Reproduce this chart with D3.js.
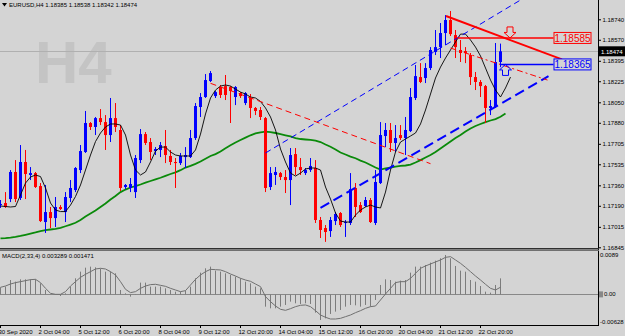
<!DOCTYPE html>
<html>
<head>
<meta charset="utf-8">
<script src="https://cdn.jsdelivr.net/npm/d3@7"></script>
<style>
  html, body { margin: 0; padding: 0; background: #d4d4d4; }
  svg { display: block; font-family: "Liberation Sans", Arial, sans-serif; }
</style>
</head>
<body>
<div id="chart"></div>
<script>
// EURUSD H4 candles, bar 0 = 30 Sep 20:00, bar 100 = 23 Oct 12:00
const open = [1.17196,1.17213,1.17246,1.17471,1.17255,1.17554,1.17446,1.17462,1.17354,1.17055,
  1.17138,1.17088,1.17180,1.17138,1.17255,1.17321,1.17487,1.17637,1.17878,1.17845,
  1.17919,1.17886,1.17778,1.17919,1.17820,1.17346,1.17338,1.17304,1.17570,1.17786,
  1.17720,1.17645,1.17654,1.17687,1.17604,1.17554,1.17545,1.17595,1.17595,1.17753,
  1.18011,1.18094,1.18227,1.18102,1.18177,1.18185,1.18177,1.18094,1.18127,1.18044,
  1.18086,1.18003,1.17986,1.17919,1.17346,1.17446,1.17462,1.17429,1.17404,1.17620,
  1.17512,1.17462,1.17487,1.17504,1.17072,1.17005,1.16980,1.17063,1.17130,1.17047,
  1.17047,1.17338,1.17196,1.17188,1.17238,1.17047,1.17379,1.17770,1.17820,1.17712,
  1.17778,1.17753,1.17811,1.18086,1.18260,1.18252,1.18335,1.18468,1.18509,1.18626,
  1.18734,1.18609,1.18485,1.18476,1.18443,1.18260,1.18219,1.18185,1.18003,1.18011,
  1.18385]
const high = [1.17238,1.17304,1.17487,1.17570,1.17695,1.17654,1.17512,1.17471,1.17379,1.17363,
  1.17180,1.17263,1.17196,1.17304,1.17404,1.17512,1.17695,1.17978,1.17886,1.17928,
  1.17994,1.17944,1.18086,1.18044,1.17861,1.17371,1.17421,1.17612,1.17828,1.17803,
  1.17753,1.17678,1.17720,1.17820,1.17654,1.17587,1.17629,1.17678,1.17820,1.18044,
  1.18127,1.18285,1.18310,1.18144,1.18194,1.18277,1.18185,1.18185,1.18135,1.18135,
  1.18119,1.18011,1.18011,1.17928,1.17512,1.17512,1.17471,1.17487,1.17670,1.17670,
  1.17587,1.17504,1.17587,1.17570,1.17097,1.17030,1.17097,1.17138,1.17138,1.17072,
  1.17462,1.17379,1.17221,1.17263,1.17255,1.17487,1.17886,1.17878,1.17878,1.17861,
  1.17861,1.17928,1.18169,1.18360,1.18376,1.18376,1.18509,1.18651,1.18709,1.18775,
  1.18809,1.18651,1.18568,1.18509,1.18460,1.18302,1.18235,1.18194,1.18069,1.18543,
  1.18538]
const low = [1.17172,1.17172,1.17221,1.17221,1.17238,1.17246,1.17404,1.17338,1.17055,1.16964,
  1.17005,1.17014,1.17155,1.17055,1.17221,1.17304,1.17462,1.17629,1.17820,1.17778,
  1.17861,1.17654,1.17720,1.17803,1.17313,1.17329,1.17304,1.17255,1.17545,1.17695,
  1.17570,1.17612,1.17595,1.17545,1.17529,1.17338,1.17529,1.17504,1.17587,1.17737,
  1.17928,1.18086,1.18219,1.18086,1.18086,1.18069,1.17878,1.18027,1.18086,1.18027,
  1.17919,1.17944,1.17903,1.17304,1.17321,1.17363,1.17404,1.17296,1.17196,1.17446,
  1.17446,1.17446,1.17471,1.17047,1.16922,1.16890,1.16931,1.17030,1.17014,1.16931,
  1.17030,1.17097,1.17130,1.17180,1.17047,1.17030,1.17371,1.17678,1.17637,1.17637,
  1.17737,1.17612,1.17803,1.18069,1.18210,1.18210,1.18318,1.18443,1.18418,1.18526,
  1.18601,1.18418,1.18385,1.18376,1.18194,1.18152,1.18094,1.17878,1.17944,1.18003,
  1.18342]
const close = [1.17205,1.17180,1.17471,1.17246,1.17554,1.17454,1.17462,1.17346,1.17063,1.17138,
  1.17088,1.17180,1.17163,1.17263,1.17338,1.17504,1.17645,1.17878,1.17845,1.17919,
  1.17886,1.17778,1.17919,1.17845,1.17338,1.17363,1.17371,1.17587,1.17786,1.17712,
  1.17637,1.17662,1.17695,1.17612,1.17554,1.17545,1.17604,1.17612,1.17753,1.18019,
  1.18094,1.18235,1.18293,1.18135,1.18111,1.18111,1.18144,1.18177,1.18102,1.18127,
  1.18003,1.17978,1.17928,1.17338,1.17462,1.17471,1.17429,1.17404,1.17612,1.17512,
  1.17487,1.17487,1.17521,1.17072,1.16989,1.16972,1.17072,1.17122,1.17030,1.17055,
  1.17329,1.17180,1.17138,1.17238,1.17055,1.17388,1.17778,1.17820,1.17712,1.17753,
  1.17753,1.17820,1.18094,1.18268,1.18219,1.18335,1.18485,1.18509,1.18626,1.18734,
  1.18617,1.18509,1.18460,1.18460,1.18260,1.18219,1.18185,1.18003,1.18019,1.18385,
  1.18474]

// thin black moving average (drawn shifted, so it runs 2 bars past the last candle)
const maFast = [1.17188,1.17184,1.17180,1.17184,1.17280,1.17379,1.17429,1.17446,1.17433,1.17338,
  1.17213,1.17155,1.17142,1.17142,1.17196,1.17267,1.17363,1.17487,1.17612,1.17724,
  1.17795,1.17845,1.17870,1.17870,1.17861,1.17778,1.17612,1.17487,1.17446,1.17471,
  1.17554,1.17645,1.17678,1.17678,1.17637,1.17612,1.17604,1.17604,1.17604,1.17654,
  1.17786,1.17953,1.18086,1.18152,1.18185,1.18194,1.18185,1.18160,1.18135,1.18119,
  1.18094,1.18086,1.18057,1.18003,1.17928,1.17820,1.17662,1.17554,1.17462,1.17437,
  1.17462,1.17496,1.17504,1.17504,1.17487,1.17346,1.17246,1.17130,1.17063,1.17055,
  1.17055,1.17113,1.17155,1.17180,1.17196,1.17180,1.17172,1.17304,1.17487,1.17637,
  1.17720,1.17745,1.17770,1.17795,1.17870,1.17986,1.18119,1.18252,1.18343,1.18418,
  1.18485,1.18551,1.18617,1.18617,1.18568,1.18509,1.18435,1.18335,1.18235,1.18152,
  1.18094,1.18169,1.18260]

// green slow moving average
const maSlow = [1.16920,1.16922,1.16926,1.16931,1.16939,1.16949,1.16959,1.16969,1.16980,1.16987,
  1.16993,1.16999,1.17007,1.17020,1.17034,1.17049,1.17072,1.17101,1.17126,1.17151,
  1.17180,1.17209,1.17242,1.17271,1.17304,1.17325,1.17342,1.17354,1.17367,1.17383,
  1.17396,1.17410,1.17423,1.17439,1.17454,1.17468,1.17486,1.17508,1.17522,1.17539,
  1.17558,1.17581,1.17604,1.17620,1.17641,1.17668,1.17693,1.17716,1.17737,1.17757,
  1.17776,1.17791,1.17801,1.17806,1.17803,1.17795,1.17786,1.17776,1.17766,1.17753,
  1.17745,1.17741,1.17737,1.17732,1.17720,1.17699,1.17681,1.17658,1.17633,1.17616,
  1.17599,1.17585,1.17566,1.17550,1.17529,1.17508,1.17491,1.17500,1.17508,1.17516,
  1.17521,1.17525,1.17533,1.17550,1.17570,1.17591,1.17612,1.17637,1.17666,1.17695,
  1.17724,1.17753,1.17778,1.17807,1.17832,1.17853,1.17870,1.17886,1.17899,1.17911,
  1.17930,1.17957]

// MACD(2,33,4) histogram and signal
const macdHist = [0.00145,0.00159,0.00295,0.00261,0.00309,0.00309,0.00309,0.00309,0.00227,0.00090,
  0.00001,-0.00012,-0.00033,0.00022,0.00159,0.00330,0.00466,0.00548,0.00569,0.00555,
  0.00528,0.00466,0.00466,0.00432,0.00090,0.00022,-0.00046,0.00008,0.00241,0.00241,
  0.00159,0.00159,0.00159,0.00124,0.00090,0.00056,0.00056,0.00077,0.00159,0.00330,
  0.00446,0.00535,0.00569,0.00487,0.00466,0.00432,0.00398,0.00364,0.00330,0.00261,
  0.00227,0.00159,0.00124,-0.00252,-0.00286,-0.00286,-0.00252,-0.00217,-0.00149,-0.00183,
  -0.00197,-0.00183,-0.00197,-0.00375,-0.00525,-0.00491,-0.00402,-0.00354,-0.00320,-0.00252,
  -0.00217,-0.00224,-0.00252,-0.00217,-0.00252,-0.00115,0.00193,0.00309,0.00295,0.00261,
  0.00282,0.00295,0.00446,0.00569,0.00569,0.00603,0.00651,0.00692,0.00740,0.00808,
  0.00740,0.00583,0.00487,0.00466,0.00295,0.00261,0.00172,0.00056,0.00036,0.00193,
  0.003289]
const macdSignal = [0.00145,0.00172,0.00213,0.00241,0.00261,0.00282,0.00302,0.00309,0.00241,0.00124,
  0.00022,0.00001,0.00001,0.00056,0.00172,0.00261,0.00350,0.00412,0.00466,0.00521,
  0.00535,0.00521,0.00466,0.00398,0.00261,0.00104,0.00036,0.00056,0.00124,0.00172,
  0.00200,0.00207,0.00186,0.00165,0.00124,0.00090,0.00056,0.00077,0.00193,0.00309,
  0.00398,0.00466,0.00514,0.00507,0.00501,0.00466,0.00418,0.00377,0.00330,0.00295,
  0.00268,0.00213,0.00159,-0.00046,-0.00149,-0.00238,-0.00306,-0.00327,-0.00293,-0.00252,
  -0.00224,-0.00217,-0.00252,-0.00334,-0.00423,-0.00470,-0.00505,-0.00505,-0.00491,-0.00457,
  -0.00423,-0.00375,-0.00334,-0.00286,-0.00252,-0.00238,-0.00115,0.00008,0.00124,0.00241,
  0.00261,0.00261,0.00330,0.00432,0.00535,0.00583,0.00624,0.00665,0.00706,0.00760,
  0.00774,0.00706,0.00637,0.00555,0.00466,0.00377,0.00295,0.00207,0.00124,0.00090,
  0.001471]

const priceTicks = [1.18740,1.18570,1.18395,1.18225,1.18050,1.17880,1.17705,1.17535,1.17360,1.17190,1.17015,1.16845]
const macdTicks = [0.0089, 0, -0.00628]
const macdTickLabels = ['0.0089', '0.00', '-0.00628']
const timeIdx = [0,8,16,24,32,40,48,56,64,72,80,88,96]
const timeLabels = ['30 Sep 2020','2 Oct 04:00','5 Oct 12:00','6 Oct 20:00','8 Oct 04:00','9 Oct 12:00',
  '12 Oct 20:00','14 Oct 04:00','15 Oct 12:00','16 Oct 20:00','20 Oct 04:00','21 Oct 12:00','22 Oct 20:00']

// drawn objects: [bar, price] pairs
const redTrend = [[89.2, 1.18767], [112.4, 1.18407]]
const blueChannelUp = [[53.1, 1.17629], [106.7, 1.18965]]
const blueChannelLow = [[64.1, 1.17172], [109.7, 1.18268]]
const redDash1 = [[42.1, 1.18208], [86.1, 1.17540]]
const redDash2 = [[90.1, 1.18501], [109.5, 1.18235]]
const levels = [
  {price: 1.18585, from: 91.5, color: '#ff0000', arrow: 'down', arrowBar: 101.9},
  {price: 1.18365, from: 100, color: '#0000ff', arrow: 'up', arrowBar: 101.0}
]
const labelBar = 110.7

let width = 625,
    height = 336,
    plotRight = 598,
    mainBottom = 248,
    subTop = 251,
    subBottom = 325,
    fs = 6          // small terminal font

let svg = d3.select('#chart')
  .append('svg')
    .attr('width', width)
    .attr('height', height)

svg.append('rect').attr('width', width).attr('height', height).attr('fill', '#d4d4d4')

let x = d3.scaleLinear().domain([0, 100]).range([0, 500])
let y = d3.scaleLinear()
  .domain([priceTicks[priceTicks.length - 1], priceTicks[0]])
  .range([247.3, 19.3])
let ym = d3.scaleLinear().domain([macdTicks[2], macdTicks[0]]).range([subBottom, subTop])

let defs = svg.append('defs')
defs.append('clipPath').attr('id', 'clipMain')
  .append('rect').attr('x', 0).attr('y', 0).attr('width', plotRight).attr('height', mainBottom)
defs.append('clipPath').attr('id', 'clipSub')
  .append('rect').attr('x', 0).attr('y', subTop).attr('width', plotRight).attr('height', subBottom - subTop)

let main = svg.append('g').attr('clip-path', 'url(#clipMain)')

// big timeframe watermark
main.append('text')
  .attr('x', 35).attr('y', 83)
  .attr('font-size', 60).attr('font-weight', 'bold')
  .attr('fill', '#c4c4c4')
  .text('H4')

// bid line
let lastY = Math.round(y(close[close.length - 1])) + 0.5
main.append('line')
  .attr('x1', 0).attr('x2', plotRight)
  .attr('y1', lastY).attr('y2', lastY)
  .attr('stroke', '#b0b0b0')

let line = d3.line().x((d, i) => x(i) + 0.5).y(d => y(d))

main.append('path').datum(maSlow)
  .attr('d', line).attr('fill', 'none')
  .attr('stroke', '#0a8a0a').attr('stroke-width', 1.8)

let bars = open.map((o, i) => ({i: i, o: o, h: high[i], l: low[i], c: close[i]}))
let col = d => d.c >= d.o ? '#0000ff' : '#ff0000'

main.selectAll('line.wick').data(bars).enter().append('line')
  .attr('class', 'wick')
  .attr('x1', d => x(d.i) + 0.5).attr('x2', d => x(d.i) + 0.5)
  .attr('y1', d => y(d.h)).attr('y2', d => y(d.l))
  .attr('stroke', col)

main.selectAll('rect.body').data(bars).enter().append('rect')
  .attr('class', 'body')
  .attr('x', d => x(d.i) - 1)
  .attr('width', 3)
  .attr('y', d => y(Math.max(d.o, d.c)))
  .attr('height', d => Math.max(1, Math.abs(y(d.o) - y(d.c))))
  .attr('fill', col)

main.append('path').datum(maFast)
  .attr('d', line).attr('fill', 'none')
  .attr('stroke', '#000').attr('stroke-width', 0.9)

// trend objects
let seg = d3.line().x(d => x(d[0])).y(d => y(d[1]))
main.append('path').attr('d', seg(blueChannelUp)).attr('stroke', '#0000ff')
  .attr('stroke-width', 1).attr('stroke-dasharray', '6,4').attr('fill', 'none')
main.append('path').attr('d', seg(blueChannelLow)).attr('stroke', '#0000ff')
  .attr('stroke-width', 2).attr('stroke-dasharray', '10,5').attr('fill', 'none')
main.append('path').attr('d', seg(redDash1)).attr('stroke', '#ff0000')
  .attr('stroke-width', 1).attr('stroke-dasharray', '6,4').attr('fill', 'none')
main.append('path').attr('d', seg(redDash2)).attr('stroke', '#ff0000')
  .attr('stroke-width', 1).attr('stroke-dasharray', '6,3,2,3').attr('fill', 'none')
main.append('path').attr('d', seg(redTrend)).attr('stroke', '#ff0000')
  .attr('stroke-width', 2).attr('fill', 'none')

// price levels with labels and arrows
levels.forEach(function(lv) {
  let ly = y(lv.price)
  main.append('line')
    .attr('x1', x(lv.from)).attr('x2', x(labelBar))
    .attr('y1', ly).attr('y2', ly)
    .attr('stroke', lv.color).attr('stroke-width', 1.5)
  main.append('rect')
    .attr('x', x(labelBar) + 0.5).attr('y', ly - 5.5)
    .attr('width', 37).attr('height', 11)
    .attr('fill', '#d4d4d4').attr('stroke', lv.color)
  main.append('text')
    .attr('x', x(labelBar) + 19).attr('y', ly + 3.6)
    .attr('text-anchor', 'middle')
    .attr('font-size', 10).attr('fill', lv.color)
    .text(lv.price.toFixed(5))
  let ax = x(lv.arrowBar) + 0.5
  let s = lv.arrow === 'down' ? -1 : 1   // direction from tip
  let pts = [[0, 0], [6, 5.5 * s], [3, 5.5 * s], [3, 11 * s], [-3, 11 * s], [-3, 5.5 * s], [-6, 5.5 * s]]
  main.append('polygon')
    .attr('points', pts.map(p => [ax + p[0], ly + p[1]]).join(' '))
    .attr('fill', 'none').attr('stroke', lv.color).attr('stroke-width', 1)
})

// header text
svg.append('path').attr('d', 'M2,3 L7,3 L4.5,6.5 Z').attr('fill', '#000')
svg.append('text').attr('x', 9).attr('y', 7.2)
  .attr('font-size', fs).attr('fill', '#000')
  .text('EURUSD,H4  ' + [open[100], high[100], low[100], close[100]].map(v => v.toFixed(5)).join(' '))

// price axis
let yAxis = svg.append('g')
  .attr('transform', `translate(${plotRight},0)`)
  .call(d3.axisRight(y).tickValues(priceTicks).tickFormat(d3.format('.5f')).tickSize(3).tickPadding(1.5))
yAxis.select('.domain').remove()
yAxis.selectAll('text').attr('font-size', fs).attr('font-family', '"Liberation Sans", Arial, sans-serif').attr('fill', '#000')
yAxis.selectAll('line').attr('stroke', '#000')

// current price box
let cy = y(close[close.length - 1])
svg.append('rect').attr('x', plotRight).attr('y', cy - 5).attr('width', 27).attr('height', 10).attr('fill', '#000')
svg.append('text').attr('x', plotRight + 3).attr('y', cy + 2.2)
  .attr('font-size', fs).attr('fill', '#fff').text(close[close.length - 1].toFixed(5))

// frame lines
svg.append('line').attr('x1', plotRight + 0.5).attr('x2', plotRight + 0.5).attr('y1', 0).attr('y2', subBottom + 1)
  .attr('stroke', '#000')
svg.append('rect').attr('x', 0).attr('y', mainBottom).attr('width', plotRight + 1).attr('height', 1.5).attr('fill', '#303030')
svg.append('rect').attr('x', 0).attr('y', mainBottom + 2).attr('width', plotRight + 1).attr('height', 1).attr('fill', '#707070')
svg.append('line').attr('x1', 0).attr('x2', plotRight + 1).attr('y1', subBottom + 0.5).attr('y2', subBottom + 0.5)
  .attr('stroke', '#000')

// MACD subwindow
let sub = svg.append('g').attr('clip-path', 'url(#clipSub)')
let zy = Math.round(ym(0)) + 0.5
sub.append('line').attr('x1', 0).attr('x2', plotRight).attr('y1', zy).attr('y2', zy)
  .attr('stroke', '#888').attr('stroke-width', 1)
sub.selectAll('line.hist').data(macdHist).enter().append('line')
  .attr('class', 'hist')
  .attr('x1', (d, i) => x(i) + 0.5).attr('x2', (d, i) => x(i) + 0.5)
  .attr('y1', zy).attr('y2', d => ym(d))
  .attr('stroke', '#7c7c7c')
sub.append('path').datum(macdSignal)
  .attr('d', d3.line().x((d, i) => x(i) + 0.5).y(d => ym(d)))
  .attr('fill', 'none').attr('stroke', '#707070').attr('stroke-width', 1)

svg.append('text').attr('x', 2).attr('y', 258.3)
  .attr('font-size', fs).attr('fill', '#000')
  .text('MACD(2,33,4) ' + macdHist[100].toFixed(6) + ' ' + macdSignal[100].toFixed(6))

// MACD scale labels
let mOff = [4, 0, -3]
svg.selectAll('text.mlab').data(macdTicks).enter().append('text')
  .attr('class', 'mlab')
  .attr('x', (d, i) => i === 1 ? plotRight + 6 : plotRight + 2)
  .attr('y', (d, i) => ym(d) + mOff[i] + 2.1)
  .attr('font-size', fs).attr('fill', '#000')
  .text((d, i) => macdTickLabels[i])
svg.append('rect').attr('x', plotRight + 1).attr('y', ym(0) - 3).attr('width', 4).attr('height', 6).attr('fill', '#888')

// time axis
let xAxis = svg.append('g')
  .attr('transform', `translate(0,${subBottom + 1})`)
  .call(d3.axisBottom(x).tickValues(timeIdx).tickFormat((d, i) => timeLabels[i]).tickSize(2).tickPadding(2))
xAxis.select('.domain').remove()
xAxis.selectAll('line').attr('stroke', '#000')
xAxis.selectAll('text')
  .attr('text-anchor', 'start').attr('x', -2)
  .attr('font-size', fs).attr('font-family', '"Liberation Sans", Arial, sans-serif').attr('fill', '#000')
</script>
</body>
</html>
